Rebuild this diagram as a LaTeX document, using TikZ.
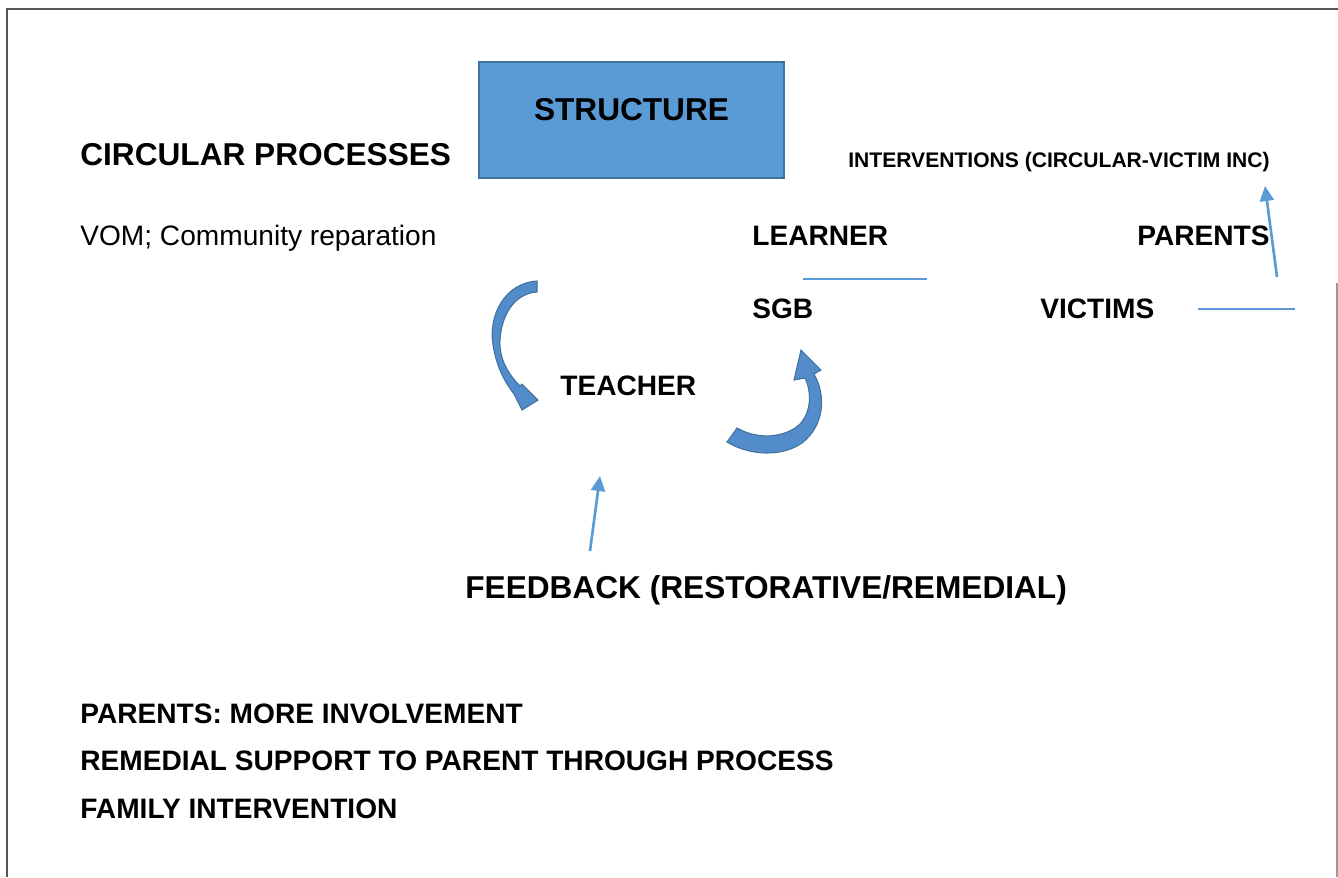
\documentclass[tikz,border=0pt]{standalone}
\usepackage{fontspec}
\setmainfont{Liberation Sans}
\usetikzlibrary{arrows.meta}
\definecolor{boxblue}{HTML}{5B9BD5}
\definecolor{boxedge}{HTML}{41719C}
\definecolor{curvefill}{HTML}{528CCB}
\definecolor{frame}{HTML}{555555}
\tikzset{
    x=0.02cm, y=-0.02cm, % one unit is one pixel of the page
    }

\begin{document}
\begin{tikzpicture}[
bigtext/.style={anchor=base west, inner sep=0pt, font=\fontsize{18}{22}\selectfont\bfseries},
roletext/.style={anchor=base west, inner sep=0pt, font=\fontsize{16}{19}\selectfont\bfseries},
plaintext/.style={anchor=base west, inner sep=0pt, font=\fontsize{16}{19}\selectfont},
smalltext/.style={anchor=base west, inner sep=0pt, font=\fontsize{12}{14}\selectfont\bfseries},
structbox/.style={rectangle, fill=boxblue, draw=boxedge, line width=1pt, minimum width=305*0.02cm, minimum height=116*0.02cm, inner sep=0pt, text height=13pt, text depth=13pt, font=\fontsize{18}{22}\selectfont\bfseries},
thinline/.style={draw=boxblue, line width=0.7pt},
uparrow/.style={draw=boxblue, line width=1.5pt, -{Triangle[length=0.3cm, width=0.28cm]}},
curvearrow/.style={fill=curvefill, draw=boxedge, line width=0.6pt},
border/.style={draw=frame, line width=1.1pt},
]
\useasboundingbox (0,0) rectangle (1338,877);

% page frame
\draw[border] (1338,9) -- (7,9) -- (7,877);
\draw[border, draw=frame!60] (1337,283) -- (1337,877);

\node[structbox] (structure) at (631.5,120) {STRUCTURE};
\node[bigtext] (circular) at (80,165) {CIRCULAR PROCESSES};
\node[smalltext] (interventions) at (848,167) {INTERVENTIONS (CIRCULAR-VICTIM INC)};
\node[plaintext] (vom) at (80,245) {VOM; Community reparation};
\node[roletext] (learner) at (752,245) {LEARNER};
\node[roletext] (parents) at (1137,245) {PARENTS};
\node[roletext] (sgb) at (752,318) {SGB};
\node[roletext] (victims) at (1040,318) {VICTIMS};
\node[roletext] (teacher) at (560,395) {TEACHER};
\node[bigtext] (feedback) at (465,598) {FEEDBACK (RESTORATIVE/REMEDIAL)};
\node[roletext] (involve) at (80,723) {PARENTS: MORE INVOLVEMENT};
\node[roletext] (support) at (80,770) {REMEDIAL SUPPORT TO PARENT THROUGH PROCESS};
\node[roletext] (family) at (80,818) {FAMILY INTERVENTION};

\coordinate (learnerL) at (803,279);
\coordinate (learnerR) at (927,279);
\coordinate (victimsL) at (1198,309);
\coordinate (victimsR) at (1295,309);
\coordinate (parentsfoot) at (1277,277);
\coordinate (parentshead) at (1265,186);
\coordinate (feedbackfoot) at (590,551);
\coordinate (feedbackhead) at (600,476);

\draw[thinline] (learnerL) -- (learnerR);
\draw[thinline] (victimsL) -- (victimsR);
\draw[uparrow] (parentsfoot) -- (parentshead);
\draw[uparrow] (feedbackfoot) -- (feedbackhead);

% curved arrows round the teacher
\filldraw[curvearrow] (537,281) .. controls (505,283) and (488,315) .. (493,345)
    .. controls (497,370) and (507,385) .. (514,394) -- (522,410) -- (538,400) -- (522,384)
    -- (520,386) .. controls (506,372) and (499,356) .. (500,340)
    .. controls (502,310) and (518,293) .. (537,292) -- cycle;
\filldraw[curvearrow] (727,442) -- (737,428) .. controls (758,440) and (785,438) .. (800,424)
    .. controls (811,412) and (812,393) .. (805,378) -- (794,380) -- (801,350) -- (821,370)
    -- (814,374) .. controls (826,395) and (825,425) .. (802,443)
    .. controls (782,457) and (750,456) .. (727,442) -- cycle;
\end{tikzpicture}
\end{document}
